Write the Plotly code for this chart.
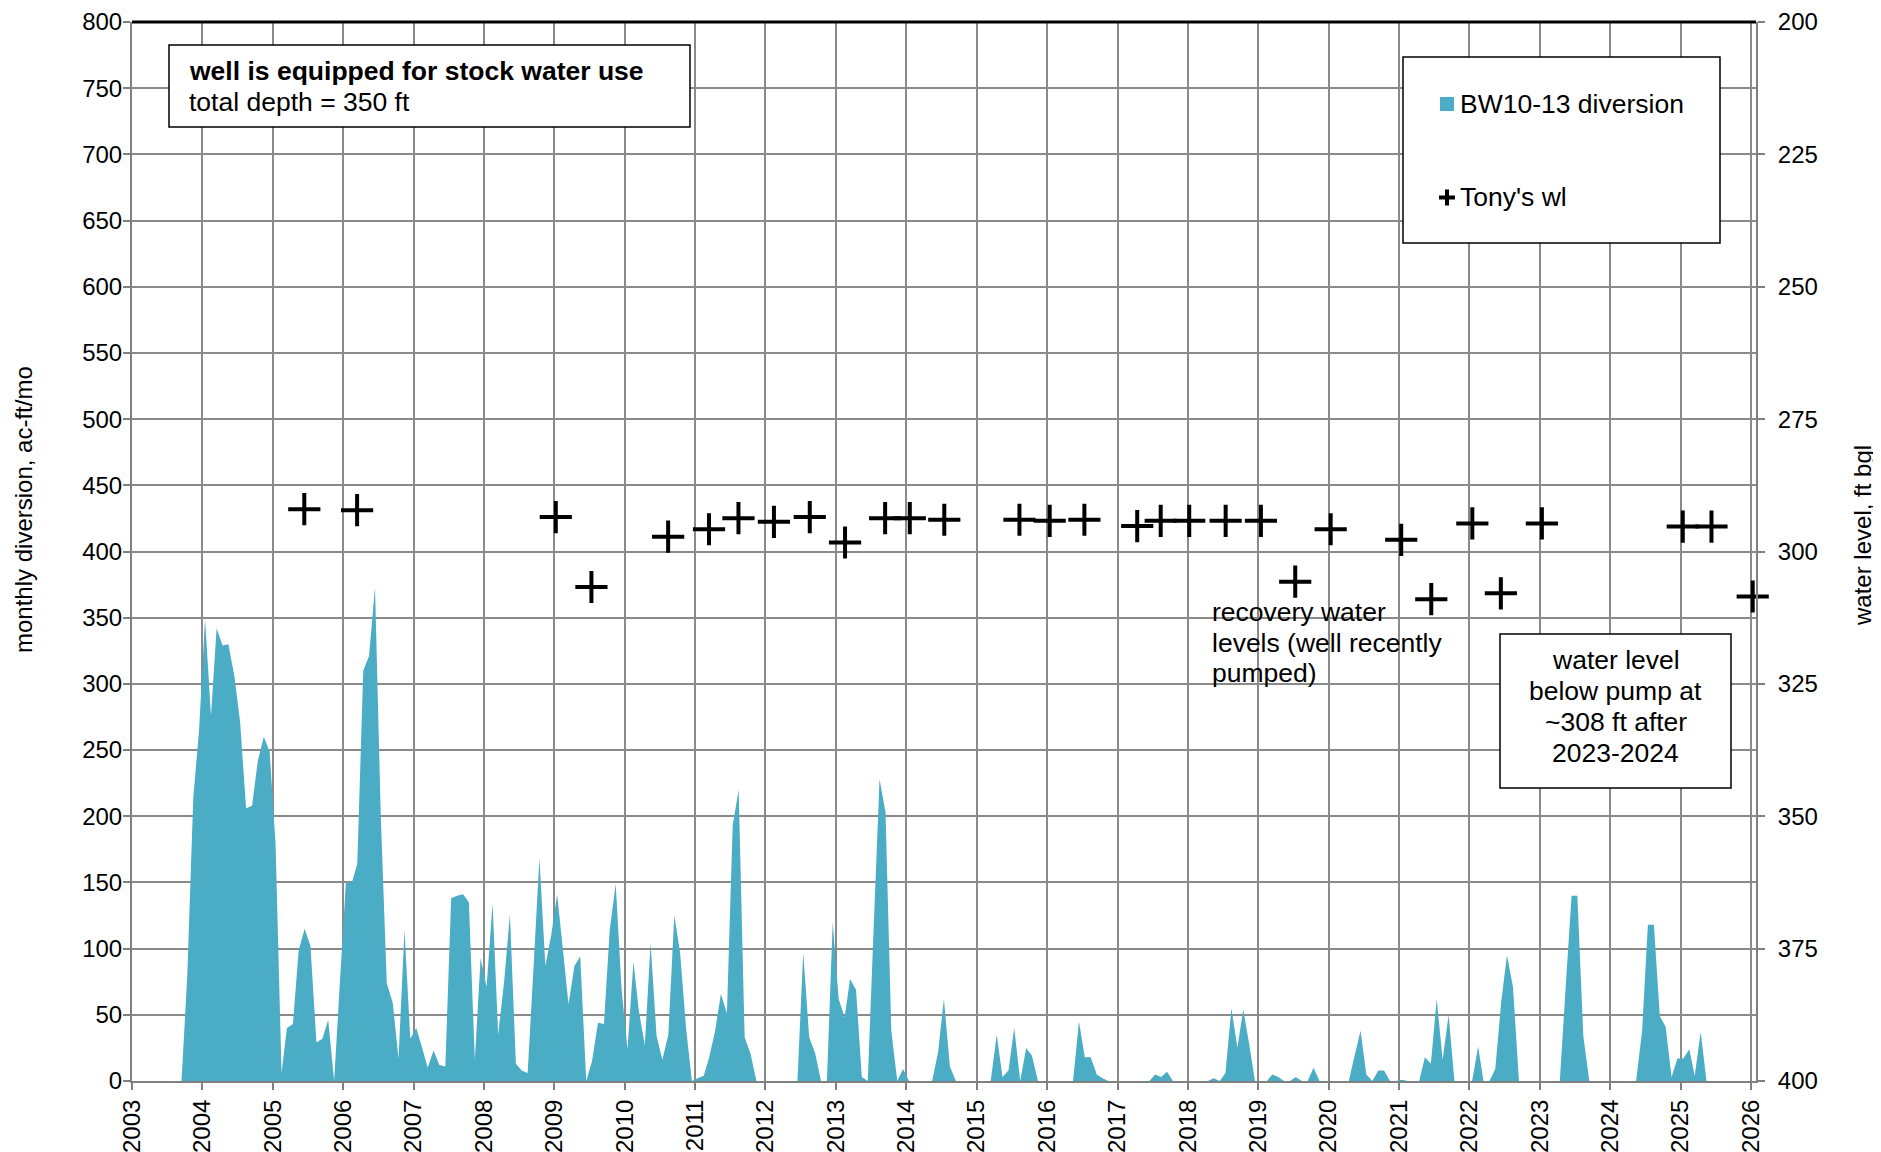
import pandas as pd
import plotly.graph_objects as go

# monthly diversion, ac-ft/mo (Sep 2003 .. May 2025), one row per year
diversion_acft = (
    [0, 80, 214, 265]                                           # 2003 Sep-Dec
    + [349, 276, 342, 329, 330, 306, 271, 206, 208, 242, 260, 249]  # 2004
    + [179, 6, 40, 43, 99, 115, 102, 29, 32, 46, 0, 75]         # 2005
    + [150, 150, 164, 310, 321, 373, 200, 74, 59, 17, 114, 32]  # 2006
    + [40, 25, 10, 23, 12, 11, 138, 140, 141, 135, 16, 93]      # 2007
    + [71, 134, 35, 75, 126, 13, 8, 6, 87, 168, 87, 110]        # 2008
    + [141, 98, 58, 87, 94, 0, 15, 44, 43, 114, 149, 70]        # 2009
    + [24, 90, 53, 27, 104, 34, 16, 35, 125, 97, 40, 0]         # 2010
    + [2, 4, 18, 38, 66, 51, 193, 220, 33, 21, 0, 0]            # 2011
    + [0, 0, 0, 0, 0, 0, 97, 33, 21, 0, 0, 120]                 # 2012
    + [62, 48, 77, 69, 3, 0, 114, 228, 203, 38, 0, 9]           # 2013
    + [0, 0, 0, 0, 0, 22, 62, 11, 0, 0, 0, 0]                   # 2014
    + [0, 0, 0, 35, 3, 8, 40, 0, 25, 19, 0, 0]                  # 2015
    + [0, 0, 0, 0, 0, 45, 18, 18, 5, 2, 0, 0]                   # 2016
    + [0, 0, 0, 0, 0, 0, 5, 3, 7, 0, 0, 0]                      # 2017
    + [0, 0, 0, 0, 2, 0, 6, 55, 25, 54, 28, 0]                  # 2018
    + [0, 0, 5, 3, 0, 0, 3, 0, 0, 10, 0, 0]                     # 2019
    + [0, 0, 0, 0, 19, 38, 5, 0, 8, 8, 0, 0]                    # 2020
    + [1, 0, 0, 0, 18, 13, 62, 16, 50, 0, 0, 0]                 # 2021
    + [0, 26, 0, 0, 9, 60, 95, 71, 0, 0, 0, 0]                  # 2022
    + [0, 0, 0, 0, 70, 140, 140, 34, 0, 0, 0, 0]                # 2023
    + [0, 0, 0, 0, 0, 38, 118, 118, 49, 41, 3, 17]              # 2024
    + [17, 24, 4, 37, 0]                                        # 2025 Jan-May
)
diversion_dates = pd.date_range("2003-09-15", periods=len(diversion_acft),
                                freq=pd.DateOffset(months=1))

# Tony's water level measurements, ft bgl
wl_dates = ["2005-06-13", "2006-03-14", "2009-01-08", "2009-07-12", "2010-08-14",
            "2011-03-14", "2011-08-14", "2012-02-14", "2012-08-18", "2013-02-17",
            "2013-09-13", "2014-01-19", "2014-07-17", "2015-08-11", "2016-01-15",
            "2016-07-13", "2017-04-13", "2017-08-13", "2018-01-08", "2018-07-16",
            "2019-01-15", "2019-07-12", "2020-01-12", "2021-01-12", "2021-06-17",
            "2022-01-16", "2022-06-13", "2023-01-12", "2025-01-12", "2025-06-10",
            "2026-01-10"]
wl_ft = [292.0, 292.2, 293.5, 306.7, 297.2,
         295.8, 293.7, 294.4, 293.5, 298.3,
         293.7, 293.7, 294.0, 294.0, 294.2,
         294.0, 295.2, 294.2, 294.2, 294.2,
         294.2, 305.7, 295.8, 297.8, 309.0,
         294.7, 307.9, 294.7, 295.3, 295.3,
         308.5]

TEAL = "#4BACC6"
GRID = "#8a8a8a"
FONT = "Liberation Sans, Arial, sans-serif"

# page is drawn inside the body's default 8px margin
OFF = 8
W, H = 1881, 1152
# plot area in page pixels
L, R, T, B = 132, 1756, 22, 1081


def px(x):
    return (x - L) / (R - L)


def py(y):
    return (B - y) / (B - T)


fig = go.Figure()

fig.add_trace(go.Scatter(
    x=diversion_dates, y=diversion_acft,
    mode="none", fill="tozeroy", fillcolor=TEAL,
    name="BW10-13 diversion", showlegend=False,
))

fig.add_trace(go.Scatter(
    x=wl_dates, y=wl_ft, yaxis="y2",
    mode="markers", name="Tony's wl", showlegend=False,
    marker=dict(symbol="cross-thin", size=23, color="black",
                line=dict(width=4, color="black")),
    cliponaxis=False,
))

axis_common = dict(
    showline=True, linecolor="#808080", linewidth=2,
    ticks="outside", ticklen=7, tickwidth=2, tickcolor="#808080",
    tickfont=dict(family=FONT, size=24, color="black"),
    zeroline=False, automargin=False,
)

fig.update_layout(
    width=W - OFF, height=H - OFF,
    margin=dict(l=L - OFF, r=W - R, t=T - OFF, b=H - B),
    paper_bgcolor="white", plot_bgcolor="white",
    font=dict(family=FONT, color="black"),
    xaxis=dict(
        type="date", range=["2003-01-01", "2026-01-27"],
        tick0="2003-01-01", dtick="M12", tickformat="%Y", tickangle=-90,
        showgrid=True, gridcolor=GRID, gridwidth=1.8,
        **axis_common,
    ),
    yaxis=dict(
        range=[0, 800], dtick=50,
        showgrid=True, gridcolor=GRID, gridwidth=1.8,
        ticklabelstandoff=-4,
        **axis_common,
    ),
    yaxis2=dict(
        overlaying="y", side="right", range=[400, 200], dtick=25,
        showgrid=False, ticklabelstandoff=8,
        **axis_common,
    ),
)

shapes = []
# heavy top border
shapes.append(dict(type="line", xref="paper", yref="paper", x0=0, x1=1, y0=1, y1=1,
                   line=dict(color="black", width=3)))


def box(x0, y0, x1, y1):
    return dict(type="rect", xref="paper", yref="paper",
                x0=px(x0), x1=px(x1), y0=py(y1), y1=py(y0),
                fillcolor="white", line=dict(color="black", width=1.5))


shapes.append(box(169, 45, 690, 127))
shapes.append(box(1403, 57, 1720, 243))
shapes.append(box(1500, 634, 1731, 788))

# legend glyphs
shapes.append(dict(type="rect", xref="paper", yref="paper",
                   x0=px(1440), x1=px(1454), y0=py(111), y1=py(97),
                   fillcolor=TEAL, line=dict(width=0)))
shapes.append(dict(type="line", xref="paper", yref="paper",
                   x0=px(1439), x1=px(1455), y0=py(197.5), y1=py(197.5),
                   line=dict(color="black", width=4)))
shapes.append(dict(type="line", xref="paper", yref="paper",
                   x0=px(1447), x1=px(1447), y0=py(189.5), y1=py(205.5),
                   line=dict(color="black", width=4)))

fig.update_layout(shapes=shapes)

TXT = 26.5


def label(text, x, y, anchor="left", size=TXT, angle=0):
    fig.add_annotation(text=text, xref="paper", yref="paper", x=px(x), y=py(y),
                       xanchor=anchor, yanchor="middle", showarrow=False,
                       textangle=angle, font=dict(family=FONT, size=size, color="black"))


label("<b>well is equipped for stock water use</b>", 187, 71)
label("total depth = 350 ft", 187, 102)

label("BW10-13 diversion", 1458, 104)
label("Tony's wl", 1458, 197)

for i, line in enumerate(["recovery water", "levels (well recently", "pumped)"]):
    label(line, 1210, 612 + 30.7 * i)

for i, line in enumerate(["water level", "below pump at", "~308 ft after", "2023-2024"]):
    label(line, 1615.5, 660 + 31 * i, anchor="center")

label("monthly diversion, ac-ft/mo", 24, 510, anchor="center", size=24, angle=-90)
label("water level, ft bgl", 1862, 536, anchor="center", size=24, angle=-90)

fig.write_html("out.html")
